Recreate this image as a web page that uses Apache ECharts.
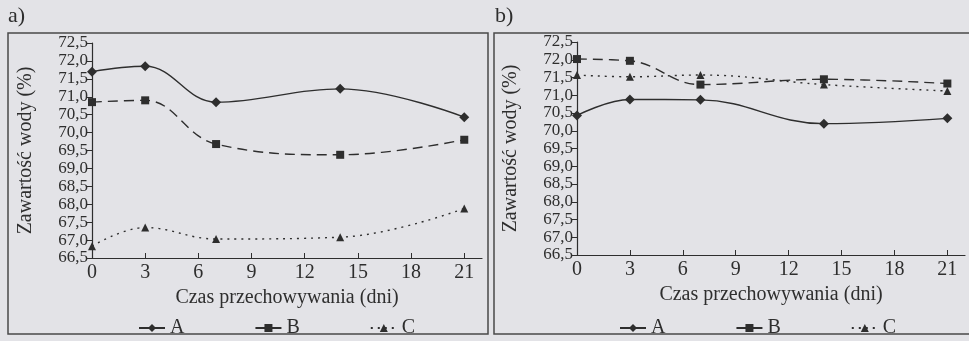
<!DOCTYPE html>
<html>
<head>
<meta charset="utf-8">
<script src="https://cdn.jsdelivr.net/npm/echarts@6/dist/echarts.min.js"></script>
<style>
  html, body { margin: 0; padding: 0; background: #e3e3e7; }
  #chart { width: 969px; height: 341px; }
</style>
</head>
<body>
<div id="chart"></div>
<script>
// dni przechowywania
const days = [0, 3, 7, 14, 21];
const xTicks = [0, 3, 6, 9, 12, 15, 18, 21];

// panel a)
const aA = [71.7, 71.85, 70.85, 71.22, 70.43];
const aB = [70.85, 70.9, 69.68, 69.38, 69.8];
const aC = [66.83, 67.35, 67.03, 67.08, 67.88];

// panel b)
const bA = [70.43, 70.88, 70.87, 70.2, 70.35];
const bB = [72.02, 71.97, 71.3, 71.45, 71.33];
const bC = [71.57, 71.52, 71.57, 71.3, 71.12];

const ink = '#2e2e2e';
const font = 'Liberation Serif';

const pairs = (vals) => days.map((d, i) => [d, vals[i]]);

const chart = echarts.init(document.getElementById('chart'));

// wspolne ustawienia osi
const makeX = (gridIndex) => ({
  type: 'value',
  gridIndex,
  min: 0,
  max: 22,
  name: 'Czas przechowywania (dni)',
  nameLocation: 'middle',
  nameGap: 27,
  nameTextStyle: { color: ink, fontFamily: font, fontSize: 20 },
  splitLine: { show: false },
  axisLine: { lineStyle: { color: ink, width: 1.2 } },
  axisTick: { inside: true, length: 5, customValues: xTicks, lineStyle: { color: ink } },
  axisLabel: { customValues: xTicks, color: ink, fontFamily: font, fontSize: 20, margin: 5 }
});

const makeY = (gridIndex) => ({
  type: 'value',
  gridIndex,
  min: 66.5,
  max: 72.5,
  interval: 0.5,
  name: 'Zawartość wody (%)',
  nameLocation: 'middle',
  nameGap: 56,
  nameTextStyle: { color: ink, fontFamily: font, fontSize: 20 },
  splitLine: { show: false },
  axisLine: { show: true, lineStyle: { color: ink, width: 1.2 } },
  axisTick: { show: true, length: 5, lineStyle: { color: ink } },
  axisLabel: {
    color: ink, fontFamily: font, fontSize: 17, margin: 4,
    formatter: (v) => v.toFixed(1).replace('.', ',')
  }
});

const makeSeries = (name, vals, idx, symbol, dash, size) => ({
  name,
  type: 'line',
  xAxisIndex: idx,
  yAxisIndex: idx,
  data: pairs(vals),
  smooth: 0.4,
  symbol,
  symbolSize: size,
  itemStyle: { color: ink },
  lineStyle: { color: ink, width: 1.4, type: dash }
});

const legendBase = {
  orient: 'horizontal',
  top: 313,
  itemWidth: 26,
  itemHeight: 10,
  itemGap: 70,
  data: ['A', 'B', 'C'],
  textStyle: { color: ink, fontFamily: font, fontSize: 20 }
};

const option = {
  backgroundColor: '#e3e3e7',
  animation: false,
  grid: [
    { left: 92, right: 487, top: 43, bottom: 83 },
    { left: 577, right: 4, top: 42, bottom: 86 }
  ],
  xAxis: [makeX(0), makeX(1)],
  yAxis: [makeY(0), makeY(1)],
  legend: [
    Object.assign({}, legendBase, { left: 133 }),
    Object.assign({}, legendBase, { left: 614 })
  ],
  graphic: [
    { type: 'rect', shape: { x: 8, y: 33, width: 480, height: 301 },
      style: { fill: 'none', stroke: '#4a4a4a', lineWidth: 1.5 } },
    { type: 'rect', shape: { x: 494, y: 33, width: 490, height: 301 },
      style: { fill: 'none', stroke: '#4a4a4a', lineWidth: 1.5 } },
    { type: 'text', left: 8, top: 5,
      style: { text: 'a)', fill: ink, font: '22px "Liberation Serif"' } },
    { type: 'text', left: 495, top: 5,
      style: { text: 'b)', fill: ink, font: '22px "Liberation Serif"' } }
  ],
  series: [
    makeSeries('A', aA, 0, 'diamond', 'solid', 10),
    makeSeries('B', aB, 0, 'rect', [10, 6], 8),
    makeSeries('C', aC, 0, 'triangle', [2, 5], 8),
    makeSeries('A', bA, 1, 'diamond', 'solid', 10),
    makeSeries('B', bB, 1, 'rect', [10, 6], 8),
    makeSeries('C', bC, 1, 'triangle', [2, 5], 8)
  ]
};

chart.setOption(option);
</script>
</body>
</html>
